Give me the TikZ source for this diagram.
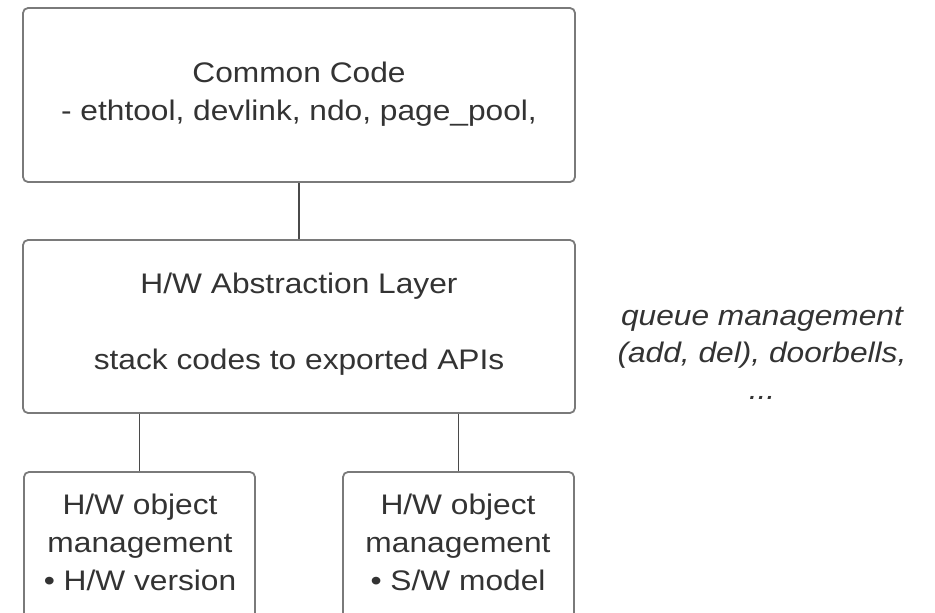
\documentclass[tikz,border=0pt]{standalone}
\usepackage{fontspec}
\setmainfont[FakeStretch=1.12]{Liberation Sans}
\definecolor{boxgray}{HTML}{7A7A7A}
\definecolor{linkgray}{HTML}{4A4A4A}
\definecolor{txtgray}{HTML}{333333}
\begin{document}
\begin{tikzpicture}[x=1pt,y=-1pt,
  box/.style={draw=boxgray, line width=1.8pt, rounded corners=5pt, inner sep=0pt},
  txt/.style={text=txtgray, font=\fontsize{28.3}{38}\selectfont, align=center, inner sep=0pt},
  link/.style={draw=linkgray, line width=1.5pt}]
\useasboundingbox (0,0) rectangle (935,613);
\clip (0,0) rectangle (935,613);
\fill[white] (0,0) rectangle (935,613);
\node[box, minimum width=552pt, minimum height=174pt] (top) at (299,95) {};
\node[box, minimum width=552pt, minimum height=173pt] (mid) at (299,326.5) {};
\node[box, minimum width=231pt, minimum height=158pt] (bl) at (139.5,551) {};
\node[box, minimum width=231pt, minimum height=158pt] (br) at (458.5,551) {};
\node[txt] (toptext) at (299,94) {Common Code\\- ethtool, devlink, ndo, page\_pool,};
\node[txt] (midtext) at (299,324.5) {H/W Abstraction Layer\\[38pt]stack codes to exported APIs};
\node[txt] (bltext) at (140,542) {H/W object\\management\\• H/W version};
\node[txt] (brtext) at (458,542) {H/W object\\management\\• S/W model};
\node[txt, font=\fontsize{28.3}{37}\selectfont\itshape] (note) at (762,353.5) {queue management\\(add, del), doorbells,\\...};
\draw[link] (top.south) -- (mid.north);
\draw[link] (bl.north) -- (bl.north |- mid.south);
\draw[link] (br.north) -- (br.north |- mid.south);
\end{tikzpicture}
\end{document}
